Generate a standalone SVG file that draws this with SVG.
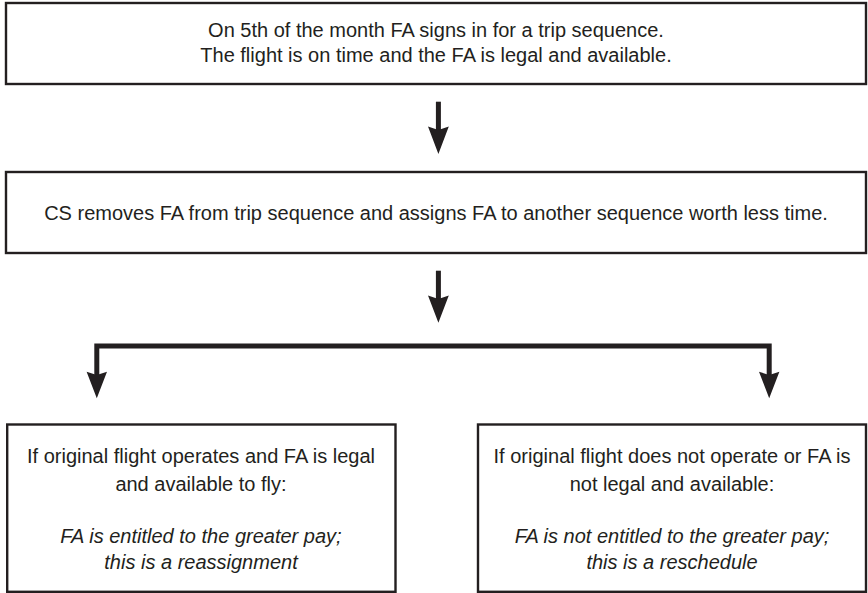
<svg xmlns="http://www.w3.org/2000/svg" width="868" height="593" viewBox="0 0 868 593">
<style>
  .box { fill: #ffffff; stroke: #231f20; stroke-width: 2.4; }
  .t { font-family: "Liberation Sans", Arial, sans-serif; font-size: 20px; fill: #231f20; text-anchor: middle; }
  .i { font-style: italic; }
  .shaft { fill: none; stroke: #231f20; stroke-width: 5; stroke-linejoin: miter; }
  .head { fill: #231f20; }
</style>
<rect width="868" height="593" fill="#ffffff"/>
<g id="connectors">
  <line class="shaft" x1="438.4" y1="101.7" x2="438.4" y2="130"/>
  <polygon class="head" points="428,126.5 438.4,130 448.8,126.5 438.4,154"/>
  <line class="shaft" x1="438.4" y1="270.7" x2="438.4" y2="299"/>
  <polygon class="head" points="428,295.5 438.4,299 448.8,295.5 438.4,322.7"/>
  <path class="shaft" d="M96.8,375 L96.8,346 L769.2,346 L769.2,375"/>
  <polygon class="head" points="86.6,371.7 96.8,375 107,371.7 96.8,398.3"/>
  <polygon class="head" points="759,371.7 769.2,375 779.4,371.7 769.2,398.3"/>
</g>
<g id="node-start">
  <rect class="box" x="6" y="3" width="860" height="81"/>
  <text class="t" x="436" y="37">On 5th of the month FA signs in for a trip sequence.</text>
  <text class="t" x="436" y="61.5">The flight is on time and the FA is legal and available.</text>
</g>
<g id="node-remove">
  <rect class="box" x="6" y="172" width="860" height="81"/>
  <text class="t" x="436" y="219.5">CS removes FA from trip sequence and assigns FA to another sequence worth less time.</text>
</g>
<g id="node-reassignment">
  <rect class="box" x="7.2" y="424.5" width="388.3" height="167.3"/>
  <text class="t" x="201" y="463.3">If original flight operates and FA is legal</text>
  <text class="t" x="201" y="490.5">and available to fly:</text>
  <text class="t i" x="201" y="542.5">FA is entitled to the greater pay;</text>
  <text class="t i" x="201" y="569.3">this is a reassignment</text>
</g>
<g id="node-reschedule">
  <rect class="box" x="478" y="424.5" width="388" height="167.3"/>
  <text class="t" x="672" y="463.3">If original flight does not operate or FA is</text>
  <text class="t" x="672" y="490.5">not legal and available:</text>
  <text class="t i" x="672" y="542.5">FA is not entitled to the greater pay;</text>
  <text class="t i" x="672" y="569.3">this is a reschedule</text>
</g>
</svg>
